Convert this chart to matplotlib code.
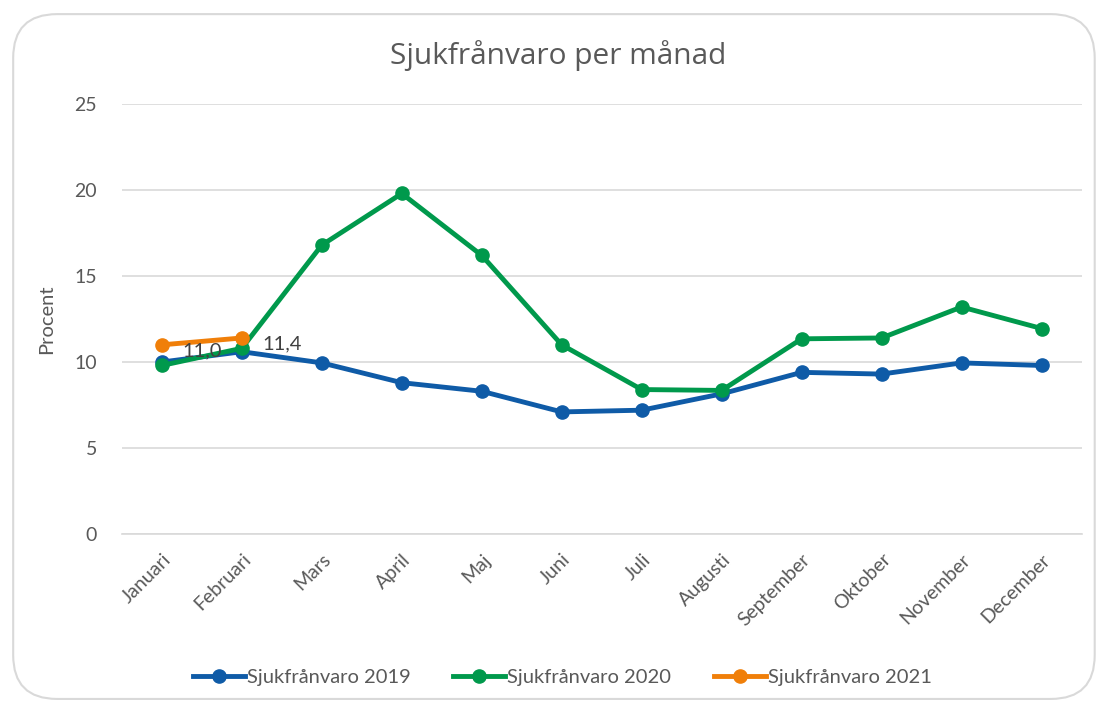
import matplotlib.pyplot as plt
from matplotlib.patches import FancyBboxPatch

plt.rcParams['font.family'] = ['Lato', 'DejaVu Sans']

# Data
months = ['Januari', 'Februari', 'Mars', 'April', 'Maj', 'Juni', 'Juli',
          'Augusti', 'September', 'Oktober', 'November', 'December']
v2019 = [10.0, 10.6, 9.95, 8.8, 8.3, 7.1, 7.2, 8.15, 9.4, 9.3, 9.95, 9.8]
v2020 = [9.8, 10.8, 16.8, 19.8, 16.2, 11.0, 8.4, 8.35, 11.35, 11.4, 13.2, 11.95]
v2021 = [11.0, 11.4]
yticks = [0, 5, 10, 15, 20, 25]

txt = '#595959'
fig = plt.figure(figsize=(10.98, 7.06), dpi=100)
fig.patch.set_facecolor('white')

# rounded chart frame
box = FancyBboxPatch((0.012, 0.01), 0.985, 0.97, boxstyle='round,pad=0,rounding_size=0.04',
                     transform=fig.transFigure, facecolor='none', edgecolor='#d9d9d9',
                     linewidth=1.5, mutation_aspect=1098/706, zorder=-1)
fig.patches.append(box)

ax = fig.add_axes([0.111, 0.2436, 0.874, 0.609])
ax.set_facecolor('none')
x = list(range(len(months)))
ax.plot(x, v2019, color='#0f5ba7', lw=3.5, marker='o', ms=9.5, label='Sjukfrånvaro 2019', zorder=3)
ax.plot(x, v2020, color='#00994c', lw=3.5, marker='o', ms=9.5, label='Sjukfrånvaro 2020', zorder=4)
ax.plot(x[:len(v2021)], v2021, color='#f07f09', lw=3.5, marker='o', ms=9.5, label='Sjukfrånvaro 2021', zorder=5)
for i, v in enumerate(v2021):
    ax.annotate(('%.1f' % v).replace('.', ','), (i, v), xytext=(15, -4), textcoords='offset points',
                ha='left', va='center', fontsize=14.5, color='#404040', zorder=6)

ax.set_xlim(-0.5, len(months) - 0.5)
ax.set_ylim(0, 25)
ax.set_yticks(yticks)
ax.set_xticks(x)
ax.set_xticklabels(months, rotation=45, ha='right', rotation_mode='anchor')
ax.tick_params(axis='both', length=0, labelsize=14, colors=txt, pad=12)
ax.tick_params(axis='y', pad=18)
ax.grid(axis='y', color='#d9d9d9', lw=1.2)
ax.set_axisbelow(True)
for s in ['top', 'right', 'left']:
    ax.spines[s].set_visible(False)
ax.spines['bottom'].set_color('#d9d9d9')
ax.spines['bottom'].set_linewidth(1.2)
ax.set_ylabel('Procent', fontsize=14.5, color=txt, labelpad=14)

fig.text(0.508, 0.921, 'Sjukfrånvaro per månad', ha='center', va='center', fontsize=21.5,
         color=txt, family=['Open Sans', 'DejaVu Sans'])

leg = fig.legend(loc='center', bbox_to_anchor=(0.512, 0.04), ncol=3, frameon=False,
                 fontsize=14.5, handlelength=2.6, handletextpad=0.1, columnspacing=2.1)
for t in leg.get_texts():
    t.set_color(txt)

fig.savefig('out.png', dpi=100)
